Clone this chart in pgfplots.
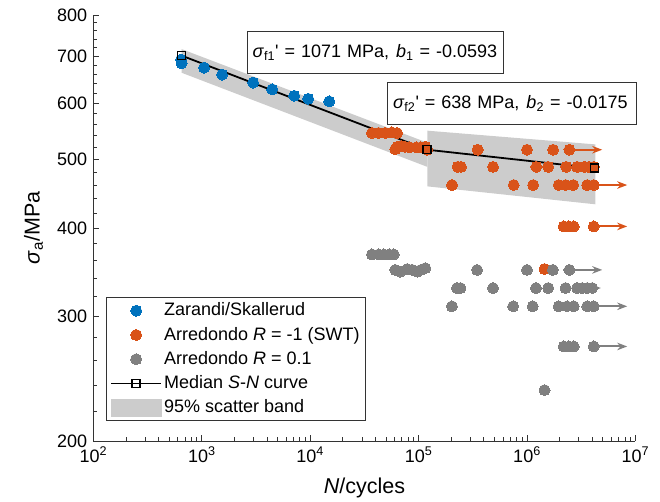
\documentclass[border=0pt]{standalone}
\usepackage{fontspec}
\setmainfont{Liberation Sans}
\usepackage{pgfplots}
\pgfplotsset{compat=1.18}
\usetikzlibrary{arrows.meta}
\definecolor{mblue}{RGB}{0,114,189}
\definecolor{morange}{RGB}{217,83,25}
\definecolor{mgray}{RGB}{128,128,128}
\definecolor{bandgray}{RGB}{204,204,204}
\newcommand{\fs}{\fontsize{18}{21}\selectfont}
\newcommand{\fl}{\fontsize{21.5}{25}\selectfont}
\tikzset{runout/.style={line width=2pt, -{Stealth[length=10pt,width=7.5pt]}}}
\begin{document}
\fs
\begin{tikzpicture}
\begin{axis}[
  at={(0pt,0pt)}, anchor=south west,
  scale only axis, width=542pt, height=426pt,
  xmode=log, ymode=log,
  xmin=1e2, xmax=1e7, ymin=200, ymax=800,
  axis lines*=left,
  axis line style={line width=0.8pt, color=black!80},
  every tick/.style={line width=0.8pt, color=black!80},
  tick align=inside, major tick length=6pt, minor tick length=3.5pt,
  xtick={1e2,1e3,1e4,1e5,1e6,1e7},
  xticklabels={10\textsuperscript{2},10\textsuperscript{3},10\textsuperscript{4},10\textsuperscript{5},10\textsuperscript{6},10\textsuperscript{7}},
  ytick={200,300,400,500,600,700,800},
  yticklabels={200,300,400,500,600,700,800},
  minor ytick={220,240,260,280,320,340,360,380,420,440,460,480,520,540,560,580,620,640,660,680,720,740,760,780},
  ticklabel style={font=\fs},
  xlabel={\textit{N}/cycles},
  ylabel={\textit{σ}\textsubscript{a}/MPa},
  label style={font=\fl},
  xlabel style={yshift=-3pt},
  ylabel style={yshift=2pt},
  legend style={at={(0.023,0.047)}, anchor=south west, font=\fs,
    draw=black!80, line width=0.8pt, row sep=4.5pt, inner xsep=4pt, inner ysep=3pt},
  legend cell align=left,
  legend image code/.code={\draw[mark repeat=2,mark phase=2,#1] plot coordinates {(0pt,0pt) (25pt,0pt) (50pt,0pt)};},
  clip=false,
]
% scatter bands
\addplot[fill=bandgray, draw=none, forget plot] coordinates {(650,716) (1.203e5,528) (1.203e5,488) (650,663)} -- cycle;
\addplot[fill=bandgray, draw=none, forget plot] coordinates {(1.203e5,549) (4.28e6,525) (4.28e6,432) (1.203e5,458)} -- cycle;
% Zarandi / Skallerud
\addplot[only marks, mark=*, mark size=5.5pt, mark options={draw=mblue, fill=mblue, line width=0pt}] coordinates {
(644,692) (650,684) (1050,674) (1540,659) (2975,642) (4457,628) (7118,615) (9588,609) (14970,604)};
\addlegendentry{Zarandi/Skallerud}
% Arredondo R=-1
\addplot[only marks, mark=*, mark size=5.5pt, mark options={draw=morange, fill=morange, line width=0pt}] coordinates {
(37150,545) (42740,545) (49240,545) (56800,546) (63200,545)
(60950,517) (64000,521) (69000,522) (75000,521) (83000,520) (95000,520) (105000,520) (115300,521) (120300,516)
(350700,516) (1.0e6,516) (1.74e6,516) (2.46e6,516)
(229000,488) (246000,488) (486000,488) (1.22e6,488) (1.57e6,488) (2.30e6,488) (2.90e6,488) (3.39e6,488) (3.72e6,488) (4.13e6,488)
(203400,460) (754000,460) (1.14e6,460) (1.96e6,460) (2.27e6,460) (2.67e6,460) (3.59e6,460) (4.13e6,460)
(2.18e6,402) (2.43e6,402) (2.70e6,402) (4.13e6,402)
(1.45e6,350)};
\addlegendentry{Arredondo \textit{R} = -1 (SWT)}
\addplot[morange, runout, forget plot] coordinates {(2.46e6,516) (4.94e6,516)};
\addplot[morange, runout, forget plot] coordinates {(4.13e6,460) (8.4e6,460)};
\addplot[morange, runout, forget plot] coordinates {(4.13e6,402) (8.4e6,402)};
% Arredondo R=0.1
\addplot[only marks, mark=*, mark size=5.5pt, mark options={draw=mgray, fill=mgray, line width=0pt}] coordinates {
(37150,367) (42740,367) (47800,367) (53400,367) (59000,367)
(60950,349) (67800,347) (78500,350) (87600,349) (97900,347) (105000,349) (115300,351)
(3.46e5,349) (1.0e6,349) (1.73e6,349) (2.46e6,349)
(2.26e5,329) (2.43e5,329) (4.86e5,329) (1.21e6,329) (1.57e6,329) (2.27e6,329) (2.90e6,329) (3.23e6,329) (3.59e6,329) (4.0e6,329)
(2.03e5,310) (7.45e5,310) (1.13e6,310) (1.96e6,310) (2.34e6,310) (2.70e6,310) (3.59e6,310) (4.13e6,310)
(2.18e6,272) (2.43e6,272) (2.70e6,272) (4.13e6,272)
(1.45e6,236)};
\addlegendentry{Arredondo \textit{R} = 0.1}
\addplot[mgray, runout, forget plot] coordinates {(2.46e6,349) (4.94e6,349)};
\addplot[mgray, runout, forget plot] coordinates {(4.0e6,329) (4.8e6,329)};
\addplot[mgray, runout, forget plot] coordinates {(4.13e6,310) (8.4e6,310)};
\addplot[mgray, runout, forget plot] coordinates {(4.13e6,272) (8.4e6,272)};
% median curve
\addplot[black, line width=1.8pt, mark=square, mark size=4pt, mark options={solid, line width=1.5pt, fill=none}] coordinates {(650,701) (1.2e5,516) (4.2e6,486)};
\addlegendentry{Median \textit{S}-\textit{N} curve}
\addlegendimage{legend image code/.code={\fill[bandgray] (0pt,-8.5pt) rectangle (50pt,8.5pt);}}
\addlegendentry{95\% scatter band}
% annotation boxes
\node[draw=black!80, line width=0.8pt, fill=white, anchor=north west, text width=245pt, inner xsep=5.5pt, minimum height=42pt, align=left, font=\fs]
  at (rel axis cs:0.283,0.962) {\textit{σ}\textsubscript{f1}\textquotesingle{} = 1071 MPa,\hspace{7pt}\textit{b}\textsubscript{1} = -0.0593};
\node[draw=black!80, line width=0.8pt, fill=white, anchor=north west, text width=238pt, inner xsep=5.5pt, minimum height=42pt, align=left, font=\fs]
  at (rel axis cs:0.542,0.843) {\textit{σ}\textsubscript{f2}\textquotesingle{} = 638 MPa,\hspace{7pt}\textit{b}\textsubscript{2} = -0.0175};
\end{axis}
\pgfresetboundingbox
\path[use as bounding box] (-93.4pt,-61pt) rectangle (566.6pt,441pt);
\end{tikzpicture}
\end{document}
